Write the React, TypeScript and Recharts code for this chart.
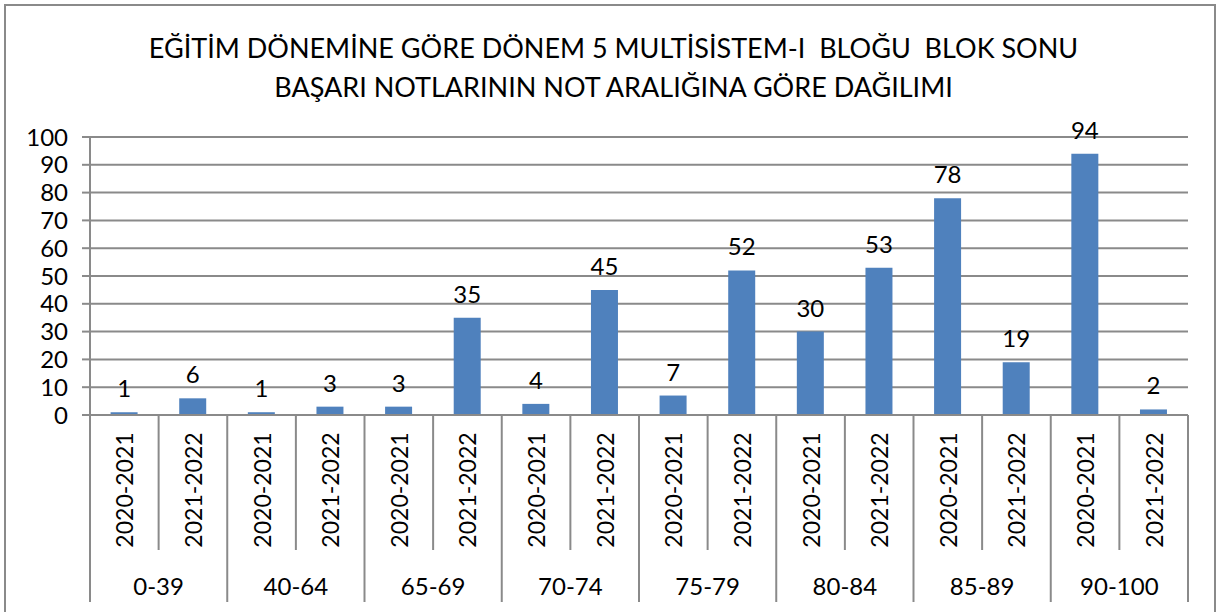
import React from "react";
import {
    BarChart,
    Bar,
    XAxis,
    YAxis,
    CartesianGrid,
    LabelList,
} from "recharts";

const groups = ["0-39", "40-64", "65-69", "70-74", "75-79", "80-84", "85-89", "90-100"];
const years = ["2020-2021", "2021-2022"];
const values2020 = [1, 1, 3, 4, 7, 30, 78, 94];
const values2021 = [6, 3, 35, 45, 52, 53, 19, 2];
const yTicks = [0, 10, 20, 30, 40, 50, 60, 70, 80, 90, 100];

const titleLines = [
    "EĞİTİM DÖNEMİNE GÖRE DÖNEM 5 MULTİSİSTEM-I  BLOĞU  BLOK SONU",
    "BAŞARI NOTLARININ NOT ARALIĞINA GÖRE DAĞILIMI",
];

const chartData = groups.flatMap((group, i) => [
    { key: `${group}|${years[0]}`, group, year: years[0], value: values2020[i] },
    { key: `${group}|${years[1]}`, group, year: years[1], value: values2021[i] },
]);

const W = 1221;
const H = 612;
const FONT = "Lato, 'Open Sans', sans-serif";
const GRID = "#8a8a8a";
const MARGIN = { top: 137, right: 33, left: 20, bottom: 0 };
const Y_AXIS_W = 70;
const X_AXIS_H = H - 415;
const AXIS_Y = H - MARGIN.bottom - X_AXIS_H;
const PLOT_W = W - MARGIN.left - MARGIN.right - Y_AXIS_W;
const BAND = PLOT_W / chartData.length;

function CategoryTick(props: any) {
    const { x, payload, index } = props;
    const [group, year] = String(payload.value).split("|");
    const left = x - BAND / 2;
    const startsGroup = index % 2 === 0;
    return (
        <g>
            <line
                x1={left}
                x2={left}
                y1={AXIS_Y}
                y2={startsGroup ? AXIS_Y + 187 : AXIS_Y + 135}
                stroke={GRID}
                strokeWidth={2}
            />
            {index === chartData.length - 1 && (
                <line
                    x1={x + BAND / 2}
                    x2={x + BAND / 2}
                    y1={AXIS_Y}
                    y2={AXIS_Y + 187}
                    stroke={GRID}
                    strokeWidth={2}
                />
            )}
            <text
                transform={`translate(${x},${AXIS_Y + 75}) rotate(-90)`}
                textAnchor="middle"
                dominantBaseline="central"
                fontSize={23}
                fontFamily={FONT}
                fill="#000"
            >
                {year}
            </text>
            {startsGroup && (
                <text
                    x={x + BAND / 2}
                    y={AXIS_Y + 170}
                    textAnchor="middle"
                    dominantBaseline="central"
                    fontSize={24}
                    fontFamily={FONT}
                    fill="#000"
                >
                    {group}
                </text>
            )}
        </g>
    );
}

export default function App() {
    return (
        <div
            style={{
                position: "absolute",
                left: 0,
                top: 0,
                width: W,
                height: H,
                background: "#fff",
                overflow: "hidden",
                fontFamily: FONT,
            }}
        >
            <div
                style={{
                    position: "absolute",
                    left: 4,
                    top: 4,
                    width: 1212,
                    height: 640,
                    border: `2px solid ${GRID}`,
                    boxSizing: "border-box",
                }}
            />
            <div
                style={{
                    position: "absolute",
                    left: 0,
                    top: 28,
                    width: W + 6,
                    textAlign: "center",
                    fontSize: 27,
                    lineHeight: "39px",
                    color: "#000",
                    whiteSpace: "pre",
                }}
            >
                {titleLines.map((t) => (
                    <div key={t}>{t}</div>
                ))}
            </div>
            <div style={{ position: "absolute", left: 0, top: 0 }}>
                <BarChart
                    width={W}
                    height={H}
                    data={chartData}
                    margin={MARGIN}
                    barCategoryGap="30%"
                >
                    <CartesianGrid
                        vertical={false}
                        stroke={GRID}
                        strokeWidth={2}
                    />
                    <XAxis
                        dataKey="key"
                        height={X_AXIS_H}
                        interval={0}
                        tickLine={false}
                        axisLine={{ stroke: GRID, strokeWidth: 2 }}
                        tick={<CategoryTick />}
                    />
                    <YAxis
                        width={Y_AXIS_W}
                        domain={[0, 100]}
                        ticks={yTicks}
                        interval={0}
                        tickSize={8}
                        tickMargin={14}
                        tickLine={{ stroke: GRID, strokeWidth: 2 }}
                        axisLine={{ stroke: GRID, strokeWidth: 2 }}
                        tick={{ fill: "#000", fontSize: 24, fontFamily: FONT }}
                    />
                    <Bar dataKey="value" fill="#4F81BD" isAnimationActive={false}>
                        <LabelList
                            dataKey="value"
                            position="top"
                            offset={15}
                            fill="#000"
                            fontSize={24}
                            fontFamily={FONT}
                        />
                    </Bar>
                </BarChart>
            </div>
        </div>
    );
}
